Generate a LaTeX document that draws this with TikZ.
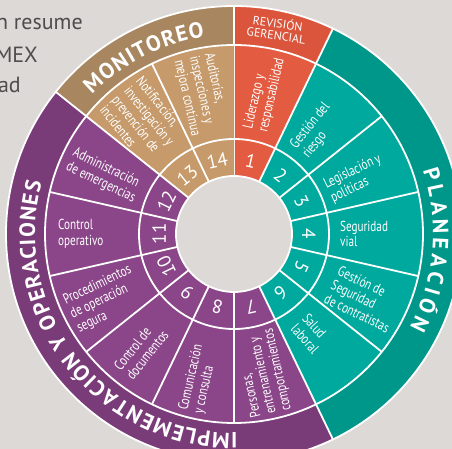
\documentclass[tikz,border=0pt]{standalone}
\usepackage{fontspec}
\setmainfont{PT Sans}
\newfontfamily\condfont[FakeStretch=0.77]{PT Sans}
\usetikzlibrary{decorations.text}
\definecolor{bg}{HTML}{DDD9D6}
\definecolor{txtgray}{HTML}{4D4D4D}
\definecolor{redin}{HTML}{E35B40}
\definecolor{redout}{HTML}{DB553C}
\definecolor{tealin}{HTML}{00A99D}
\definecolor{tealout}{HTML}{00978B}
\definecolor{purin}{HTML}{8A4688}
\definecolor{purout}{HTML}{7A3B79}
\definecolor{brnin}{HTML}{C69A6A}
\definecolor{brnout}{HTML}{A8865F}
\newcommand\ringfont{\bfseries\fontsize{22}{22}\selectfont}
\begin{document}
\begin{tikzpicture}[x=1pt,y=1pt,
  seglabel/.style={text=white, font=\condfont\fontsize{14.5}{15.5}\selectfont, align=left, inner sep=0pt},
  numlabel/.style={text=white, font=\fontsize{19}{19}\selectfont, inner sep=0pt},
  sidetext/.style={text=txtgray, font=\fontsize{22}{26}\selectfont, inner sep=0pt, anchor=base east},
  wline/.style={draw=white, line width=1.8pt},
  ringtext/.style={decorate, decoration={text along path, text color=white, text align=fit to path, text={|\ringfont|#1}}}]
\useasboundingbox (-234,-215) rectangle (218,234);
\clip (-234,-215) rectangle (218,234);
\fill[bg] (-234,-215) rectangle (218,234);

% side text (cut off at the left)
\node[sidetext] (s1) at (-151,204) {n resume};
\node[sidetext] (s2) at (-196,171) {MEX};
\node[sidetext] (s3) at (-213,141) {ad};

% outer ring
\fill[redout] (90:189) arc[start angle=90,end angle=64.2857,radius=189] -- (64.2857:228) arc[start angle=64.2857,end angle=90,radius=228] -- cycle;
\fill[tealout] (64.2857:189) arc[start angle=64.2857,end angle=-64.2857,radius=189] -- (-64.2857:228) arc[start angle=-64.2857,end angle=64.2857,radius=228] -- cycle;
\fill[purout] (-64.2857:189) arc[start angle=-64.2857,end angle=-218.5714,radius=189] -- (-218.5714:228) arc[start angle=-218.5714,end angle=-64.2857,radius=228] -- cycle;
\fill[brnout] (141.4286:189) arc[start angle=141.4286,end angle=90,radius=189] -- (90:228) arc[start angle=90,end angle=141.4286,radius=228] -- cycle;

% inner segments
\foreach \k/\col in {1/redin,2/tealin,3/tealin,4/tealin,5/tealin,6/tealin,7/purin,8/purin,9/purin,10/purin,11/purin,12/purin,13/brnin,14/brnin}{
  \pgfmathsetmacro\aS{90-(\k-1)*360/14}
  \pgfmathsetmacro\aE{90-\k*360/14}
  \fill[\col] (\aS:58) arc[start angle=\aS,end angle=\aE,radius=58] -- (\aE:189) arc[start angle=\aE,end angle=\aS,radius=189] -- cycle;
  \draw[wline] (\aS:58) -- (\aS:189);
}

% circles
\draw[wline] (0,0) circle[radius=228];
\draw[wline] (0,0) circle[radius=189];
\draw[wline] (0,0) circle[radius=95];
\filldraw[fill=bg, draw=white, line width=1.8pt] (0,0) circle[radius=58];
\foreach \a in {90,64.2857,-64.2857,141.4286}{
  \draw[wline] (\a:189) -- (\a:228);
}

% numbers
\foreach \k in {1,...,14}{
  \pgfmathsetmacro\c{90-(\k-0.5)*360/14}
  \node[numlabel, rotate=\c-90] (n\k) at (\c:75) {\k};
}

% segment labels, right side
\node[seglabel, rotate=77.14, anchor=west] (t1) at (78:106) {Liderazgo y\\responsabilidad};
\node[seglabel, rotate=51.43, anchor=west] (t2) at (51.4:105) {Gestión del\\riesgo};
\node[seglabel, rotate=25.71, anchor=west] (t3) at (24:103) {Legislación y\\políticas};
\node[seglabel, rotate=0, anchor=west] (t4) at (0:106) {Seguridad\\vial};
\node[seglabel, rotate=-25.71, anchor=west] (t5) at (-27:110) {Gestión de\\Seguridad\\de contratistas};
\node[seglabel, rotate=-48, anchor=west] (t6) at (-53:109) {Salud\\laboral};
% left side
\node[seglabel, rotate=102.86, anchor=west] (t7) at (-78:184) {Personas,\\entrenamiento y\\comportamientos};
\node[seglabel, rotate=77.14, anchor=west] (t8) at (-103.5:183) {Comunicación\\y consulta};
\node[seglabel, rotate=51.43, anchor=west] (t9) at (-128.6:178) {Control de\\documentos};
\node[seglabel, rotate=25.71, anchor=west] (t10) at (-153.5:182) {Procedimientos\\de operación\\segura};
\node[seglabel, rotate=0, anchor=west] (t11) at (180:176) {Control\\operativo};
\node[seglabel, rotate=-25.71, anchor=west] (t12) at (155.5:180) {Administración\\de emergencias};
\node[seglabel, rotate=-51.43, anchor=west] (t13) at (128.6:181) {Notificación,\\investigación y\\prevención de\\incidentes};
\node[seglabel, rotate=-77.14, anchor=west] (t14) at (102.9:182) {Auditorías,\\inspecciones y\\mejora continua};

% outer ring texts
\node[text=white, font=\fontsize{12}{12}\selectfont, align=center, rotate=-8, inner sep=0pt] (rev) at (43,205) {REVISIÓN\\GERENCIAL};
\path[ringtext=MONITOREO] (135.5:199) arc[start angle=135.5,end angle=98.5,radius=199];
\path[ringtext=PLANEACIÓN] (18.5:199) arc[start angle=18.5,end angle=-28,radius=199];
\path[ringtext=IMPLEMENTACIÓN Y OPERACIONES] (-89:199) arc[start angle=-89,end angle=-195,radius=199];
\end{tikzpicture}
\end{document}
